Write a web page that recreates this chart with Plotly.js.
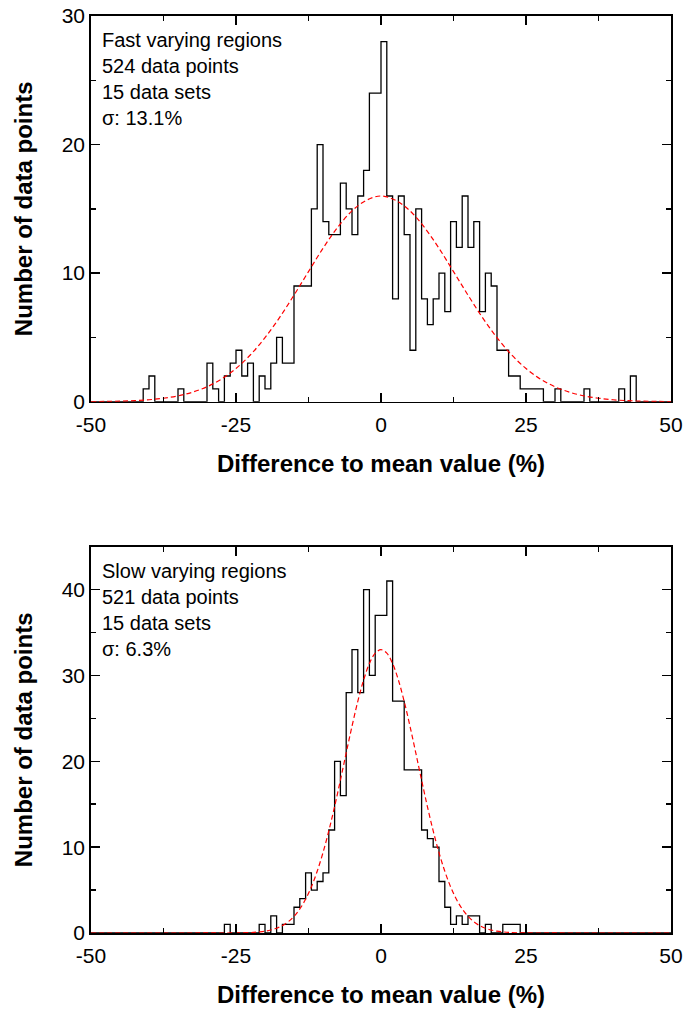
<!DOCTYPE html>
<html>
<head>
<meta charset="utf-8">
<script src="https://cdn.plot.ly/plotly-3.0.1.min.js"></script>
<style>
  html, body { margin: 0; padding: 0; background: #fff; }
  #chart { width: 685px; height: 1011px; }
</style>
</head>
<body>
<div id="chart"></div>
<script>
// ---------- DATA ----------
// Top panel: fast varying regions, 1 % bins; first bin starts at -41 %
const fastFirstBin = -41;
const fastCounts = [
  1, 2, 0, 0, 0, 0, 1, 0, 0, 0,      // -41 .. -32
  0, 3, 1, 0, 2, 3, 4, 2, 3, 0,      // -31 .. -22
  2, 1, 3, 5, 3, 3, 9, 9, 9, 15,     // -21 .. -12
  20, 14, 13, 13, 17, 15, 13, 16, 18, 24, // -11 .. -2
  24, 28, 16, 8, 16, 13, 4, 15, 8, 6,     // -1 .. 8
  8, 10, 7, 14, 12, 16, 12, 14, 7, 10,    // 9 .. 18
  9, 4, 4, 2, 2, 1, 1, 1, 1, 0,           // 19 .. 28
  0, 1, 0, 0, 0, 0, 1, 0, 0, 0,           // 29 .. 38
  0, 0, 1, 0, 2                           // 39 .. 43
];
// Gaussian fit (sigma 13.1 %)
const fastFitX = [-50, -47.5, -45, -42.5, -40, -37.5, -35, -32.5, -30, -27.5, -25, -22.5, -20, -17.5, -15, -12.5, -10, -7.5, -5, -2.5,
                  0, 2.5, 5, 7.5, 10, 12.5, 15, 17.5, 20, 22.5, 25, 27.5, 30, 32.5, 35, 37.5, 40, 42.5, 45, 47.5, 50];
const fastFitY = [0.01, 0.02, 0.04, 0.08, 0.15, 0.27, 0.45, 0.74, 1.16, 1.76, 2.58, 3.65, 4.98, 6.54, 8.29, 10.12, 11.93, 13.55, 14.84, 15.67,
                  16.0, 15.67, 14.84, 13.55, 11.93, 10.12, 8.29, 6.54, 4.98, 3.65, 2.58, 1.76, 1.16, 0.74, 0.45, 0.27, 0.15, 0.08, 0.04, 0.02, 0.01];

// Bottom panel: slow varying regions, 1 % bins; first bin starts at -27 %
const slowFirstBin = -27;
const slowCounts = [
  1, 0, 0, 0, 0, 0, 1, 0, 2, 0,      // -27 .. -18
  1, 1, 3, 4, 7, 5, 6, 7, 12, 20,    // -17 .. -8
  16, 28, 33, 28, 40, 30, 37, 37, 41, 27, // -7 .. 2
  27, 19, 19, 19, 12, 11, 10, 6, 3, 1,    // 3 .. 12
  2, 1, 2, 2, 0, 1, 0, 0, 1, 1, 1         // 13 .. 23
];
// Gaussian fit (sigma 6.3 %)
const slowFitX = [-50, -30, -25, -22, -21, -20, -19, -18, -17, -16, -15, -14, -13, -12, -11, -10, -9, -8, -7, -6, -5, -4, -3, -2, -1,
                  0, 1, 2, 3, 4, 5, 6, 7, 8, 9, 10, 11, 12, 13, 14, 15, 16, 17, 18, 19, 20, 21, 22, 25, 30, 50];
const slowFitY = [0, 0.004, 0.01, 0.07, 0.13, 0.21, 0.35, 0.56, 0.86, 1.31, 1.94, 2.80, 3.93, 5.38, 7.19, 9.36, 11.89, 14.73, 17.80, 20.97, 24.08, 26.98, 29.46, 31.38, 32.59,
                  33.0, 32.59, 31.38, 29.46, 26.98, 24.08, 20.97, 17.80, 14.73, 11.89, 9.36, 7.19, 5.38, 3.93, 2.80, 1.94, 1.31, 0.86, 0.56, 0.35, 0.21, 0.13, 0.07, 0.01, 0.004, 0];

const xRange = [-50, 50];
const xTickVals = [-50, -25, 0, 25, 50];
const xTickText = ['-50', '-25', '0', '25', '50'];
const fastYRange = [0, 30];
const slowYRange = [0, 45];

const fastLabel = ['Fast varying regions', '524 data points', '15 data sets', 'σ: 13.1%'];
const slowLabel = ['Slow varying regions', '521 data points', '15 data sets', 'σ: 6.3%'];

const xTitle = 'Difference to mean value (%)';
const yTitle = 'Number of data points';

// ---------- BUILD STEP OUTLINE ----------
function stepTrace(firstBin, counts, xa, ya) {
  const xs = [xRange[0], firstBin];
  const ys = [0, 0];
  for (let i = 0; i < counts.length; i++) {
    xs.push(firstBin + i);
    ys.push(counts[i]);
  }
  const end = firstBin + counts.length;
  xs.push(end); ys.push(0);
  xs.push(xRange[1]); ys.push(0);
  return {
    type: 'scatter', mode: 'lines', x: xs, y: ys, xaxis: xa, yaxis: ya,
    line: { shape: 'hv', color: '#000', width: 1.3 }, hoverinfo: 'skip', showlegend: false
  };
}
function fitTrace(fx, fy, xa, ya) {
  return {
    type: 'scatter', mode: 'lines', x: fx, y: fy, xaxis: xa, yaxis: ya,
    line: { shape: 'spline', color: '#ff0000', width: 1.2, dash: '5px,3px' },
    hoverinfo: 'skip', showlegend: false
  };
}

const data = [
  stepTrace(fastFirstBin, fastCounts, 'x', 'y'),
  fitTrace(fastFitX, fastFitY, 'x', 'y'),
  stepTrace(slowFirstBin, slowCounts, 'x2', 'y2'),
  fitTrace(slowFitX, slowFitY, 'x2', 'y2')
];

const FONT = 'Arial, "Liberation Sans", Helvetica, sans-serif';
const tickFont = { family: FONT, size: 21, color: '#000' };
const titleFont = { family: FONT, size: 24, color: '#000', weight: 'bold' };

function xAxis(anchor) {
  return {
    anchor: anchor, range: xRange, tickmode: 'array', tickvals: xTickVals, ticktext: xTickText,
    ticks: 'inside', ticklen: 9, tickwidth: 1.5, tickcolor: '#000', ticklabelstandoff: 3,
    minor: { tickmode: 'linear', tick0: -50, dtick: 12.5, ticks: 'inside', ticklen: 5, tickwidth: 1.5, tickcolor: '#000' },
    showline: true, linecolor: '#000', linewidth: 1.8, mirror: 'allticks',
    showgrid: false, zeroline: false, tickfont: tickFont,
    title: { text: xTitle, font: titleFont, standoff: 20 },
    automargin: false
  };
}
function yAxis(anchor, range, domain) {
  return {
    anchor: anchor, range: range, domain: domain, tickmode: 'linear', tick0: 0, dtick: 10,
    ticks: 'inside', ticklen: 9, tickwidth: 1.5, tickcolor: '#000',
    minor: { tickmode: 'linear', tick0: 0, dtick: 5, ticks: 'inside', ticklen: 5, tickwidth: 1.5, tickcolor: '#000' },
    showline: true, linecolor: '#000', linewidth: 1.8, mirror: 'allticks',
    showgrid: false, zeroline: false, tickfont: tickFont,
    title: { text: yTitle, font: titleFont, standoff: 22 },
    automargin: false
  };
}

function labelAnn(lines, xref, yref) {
  return {
    xref: xref + ' domain', yref: yref + ' domain', x: 0.016, y: 0.971,
    xanchor: 'left', yanchor: 'top', align: 'left', showarrow: false,
    text: lines.join('<br>'), font: { family: FONT, size: 20, color: '#000' }
  };
}

const layout = {
  width: 685, height: 1011,
  margin: { l: 91, r: 14, t: 16, b: 78 },
  paper_bgcolor: '#fff', plot_bgcolor: '#fff',
  showlegend: false,
  xaxis: xAxis('y'),
  yaxis: yAxis('x', fastYRange, [0.5794, 1]),
  xaxis2: xAxis('y2'),
  yaxis2: yAxis('x2', slowYRange, [0, 0.4213]),
  annotations: [labelAnn(fastLabel, 'x', 'y'), labelAnn(slowLabel, 'x2', 'y2')]
};

Plotly.newPlot('chart', data, layout, { displayModeBar: false, staticPlot: true });
</script>
</body>
</html>
